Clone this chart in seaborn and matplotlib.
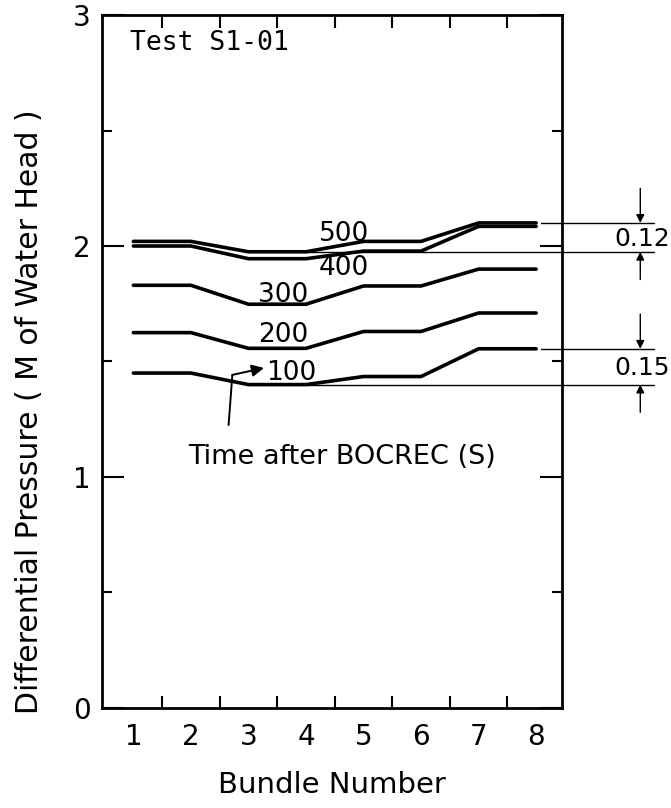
import matplotlib
matplotlib.use("Agg")
import matplotlib.pyplot as plt
from matplotlib.ticker import MultipleLocator, FixedLocator
import numpy as np
import pandas as pd
import seaborn as sns

# Bundle numbers along the channel
bundles = [1, 2, 3, 4, 5, 6, 7, 8]

# Differential pressure (m of water head) at each bundle, by time after BOCREC (s)
p100 = [1.45, 1.45, 1.40, 1.40, 1.435, 1.435, 1.555, 1.555]
p200 = [1.625, 1.625, 1.557, 1.557, 1.63, 1.63, 1.71, 1.71]
p300 = [1.83, 1.83, 1.748, 1.748, 1.827, 1.827, 1.90, 1.90]
p400 = [2.00, 2.00, 1.945, 1.945, 1.978, 1.978, 2.085, 2.085]
p500 = [2.02, 2.02, 1.975, 1.975, 2.02, 2.02, 2.10, 2.10]

times = [100, 200, 300, 400, 500]
series = [p100, p200, p300, p400, p500]

# Spread annotations (range of pressure across bundles)
spread_500 = (1.975, 2.10)   # 0.12
spread_100 = (1.40, 1.555)   # 0.15

frames = []
for t, vals in zip(times, series):
    frames.append(pd.DataFrame({"bundle": bundles, "dp": vals, "time": t}))
df = pd.concat(frames, ignore_index=True)

sns.set_style("ticks")
plt.rcParams["font.family"] = ["DejaVu Sans"]
plt.rcParams["text.color"] = "black"
plt.rcParams["axes.labelcolor"] = "black"
plt.rcParams["xtick.color"] = "black"
plt.rcParams["ytick.color"] = "black"

fig = plt.figure(figsize=(6.71, 8.08), dpi=100)
ax = fig.add_axes([0.1516, 0.1238, 0.686, 0.8576])

sns.lineplot(data=df, x="bundle", y="dp", hue="time", units="time",
             estimator=None, palette=["black"] * 5, linewidth=2.6,
             legend=False, ax=ax)

ax.set_xlim(0.45, 8.45)
ax.set_ylim(0, 3)

for s in ax.spines.values():
    s.set_visible(True)
    s.set_linewidth(2.0)
    s.set_color("black")

# x: labels at bundle centres, tick marks at bundle boundaries
ax.xaxis.set_major_locator(FixedLocator(bundles))
ax.xaxis.set_minor_locator(FixedLocator([b + 0.5 for b in bundles[:-1]]))
ax.yaxis.set_major_locator(MultipleLocator(1))
ax.yaxis.set_minor_locator(MultipleLocator(0.5))

ax.tick_params(axis="x", which="major", length=0, pad=11, labelsize=20,
               top=True, direction="in")
ax.tick_params(axis="x", which="minor", length=9, width=1.5, direction="in",
               top=True, bottom=True)
ax.tick_params(axis="y", which="major", length=16, width=1.5, direction="in",
               right=True, pad=8, labelsize=20)
ax.tick_params(axis="y", which="minor", length=7, width=1.5, direction="in",
               right=True)

ax.set_xlabel("Bundle Number", fontsize=21, labelpad=14)
ax.set_ylabel("Differential Pressure ( M of Water Head )", fontsize=21.5)
ax.yaxis.set_label_coords(-0.125, 0.427)

# Curve labels
label_pos = {500: (4.66, 2.05), 400: (4.66, 1.905), 300: (3.6, 1.79),
             200: (3.6, 1.615), 100: (3.75, 1.452)}
for t, (lx, ly) in label_pos.items():
    ax.text(lx, ly, str(t), fontsize=19, ha="center", va="center")

ax.text(0.95, 2.88, "Test S1-01", family="DejaVu Sans Mono", fontsize=19,
        ha="left", va="center")

ax.text(1.96, 1.087, "Time after BOCREC (S)", fontsize=19.5,
        ha="left", va="center")
ax.annotate("", xy=(3.27, 1.472), xytext=(2.72, 1.442),
            arrowprops=dict(arrowstyle="-|>", color="black", lw=1.4,
                            mutation_scale=18, shrinkA=0, shrinkB=0))
ax.plot([2.655, 2.72], [1.225, 1.442], color="black", lw=1.4)

# Spread reference lines and dimension arrows beyond the right axis
x_end = 10.05
x_arrow = 9.81
for lo, hi, txt in [(spread_500[0], spread_500[1], "0.12"),
                    (spread_100[0], spread_100[1], "0.15")]:
    ax.plot([4.0, x_end], [lo, lo], color="black", lw=1.0, clip_on=False)
    ax.plot([8.09, x_end], [hi, hi], color="black", lw=1.0, clip_on=False)
    ax.annotate("", xy=(x_arrow, hi), xytext=(x_arrow, hi + 0.15),
                arrowprops=dict(arrowstyle="-|>", color="black", lw=1.0,
                                mutation_scale=12, shrinkA=0, shrinkB=0),
                annotation_clip=False)
    ax.annotate("", xy=(x_arrow, lo), xytext=(x_arrow, lo - 0.12),
                arrowprops=dict(arrowstyle="-|>", color="black", lw=1.0,
                                mutation_scale=12, shrinkA=0, shrinkB=0),
                annotation_clip=False)
    ax.text(10.32, (lo + hi) / 2 - 0.005, txt, fontsize=18, ha="right",
            va="center", clip_on=False)

fig.savefig("out.png", dpi=100, facecolor="white")
